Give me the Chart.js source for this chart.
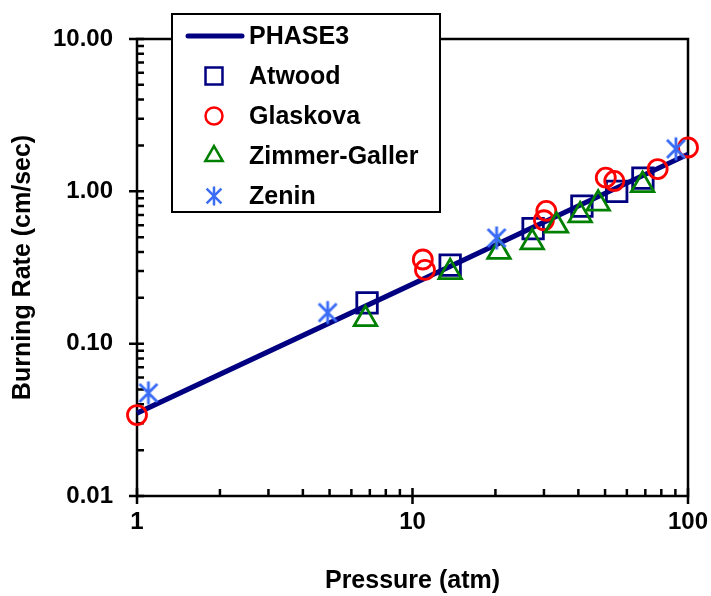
<!DOCTYPE html>
<html>
<head>
<meta charset="utf-8">
<script src="https://cdn.jsdelivr.net/npm/chart.js@4.4.1/dist/chart.umd.min.js"></script>
<style>
  html, body { margin: 0; padding: 0; background: #ffffff; }
  #wrap { width: 711px; height: 596px; position: relative; }
</style>
</head>
<body>
<div id="wrap"><canvas id="c" width="711" height="596"></canvas></div>
<script>
// ---- data ----
const pressurePhase3 = [1, 10, 100];
const ratePhase3 = [0.035, 0.246, 1.75];

const pressureAtwood = [6.84, 13.7, 27.4, 41.2, 55.1, 68.6];
const rateAtwood = [0.185, 0.328, 0.569, 0.80, 1.0, 1.22];

const pressureGlaskova = [1.0, 10.9, 11.1, 30.0, 30.6, 50.3, 54.0, 77.6, 100];
const rateGlaskova = [0.034, 0.357, 0.305, 0.646, 0.744, 1.23, 1.17, 1.40, 1.94];

const pressureZimmer = [6.75, 13.7, 20.6, 27.2, 33.3, 40.6, 47.2, 68.4];
const rateZimmer = [0.145, 0.295, 0.40, 0.462, 0.595, 0.695, 0.83, 1.10];

const pressureZenin = [1.1, 4.92, 20.2, 90.4];
const rateZenin = [0.0475, 0.16, 0.494, 1.90];

const seriesNames = ['PHASE3', 'Atwood', 'Glaskova', 'Zimmer-Galler', 'Zenin'];

const xTickValues = [1, 10, 100];
const xTickLabels = ['1', '10', '100'];
const yTickValues = [0.01, 0.1, 1, 10];
const yTickLabels = ['0.01', '0.10', '1.00', '10.00'];

function pts(xs, ys) { return xs.map((x, i) => ({ x: x, y: ys[i] })); }

// asterisk marker for Zenin
function makeStar(size, color, lw) {
  const c = document.createElement('canvas');
  c.width = size; c.height = size;
  const g = c.getContext('2d');
  const m = size / 2, r = size / 2 - 1.5;
  g.strokeStyle = color; g.lineWidth = lw; g.lineCap = 'butt';
  g.beginPath();
  g.moveTo(m, m - r); g.lineTo(m, m + r);
  const d = r * 0.78;
  g.moveTo(m - d, m - d); g.lineTo(m + d, m + d);
  g.moveTo(m + d, m - d); g.lineTo(m - d, m + d);
  g.stroke();
  return c;
}
const starPlot = makeStar(26, '#3b6cf6', 2.8);
const starLegend = makeStar(22, '#3b6cf6', 2.5);

const FONT = "'Liberation Sans', Arial, Helvetica, sans-serif";

const frameAndTicks = {
  id: 'frameAndTicks',
  beforeDatasetsDraw(chart) {
    const ctx = chart.ctx;
    const a = chart.chartArea;
    const xs = chart.scales.x, ys = chart.scales.y;
    ctx.save();
    ctx.strokeStyle = '#000';
    ctx.lineWidth = 2.5;
    ctx.beginPath();
    for (let d = 0; d < yTickValues.length; d++) {
      const v = yTickValues[d];
      const py = ys.getPixelForValue(v);
      ctx.moveTo(a.left - 8, py); ctx.lineTo(a.left + 7, py);
      if (d < yTickValues.length - 1) {
        for (let k = 2; k <= 9; k++) {
          const my = ys.getPixelForValue(v * k);
          ctx.moveTo(a.left, my); ctx.lineTo(a.left + 7, my);
        }
      }
    }
    for (let d = 0; d < xTickValues.length; d++) {
      const v = xTickValues[d];
      const px = xs.getPixelForValue(v);
      ctx.moveTo(px, a.bottom - 8); ctx.lineTo(px, a.bottom + 8);
      if (d < xTickValues.length - 1) {
        for (let k = 2; k <= 9; k++) {
          const mx = xs.getPixelForValue(v * k);
          ctx.moveTo(mx, a.bottom - 7); ctx.lineTo(mx, a.bottom);
        }
      }
    }
    ctx.stroke();
    ctx.strokeRect(a.left, a.top, a.right - a.left, a.bottom - a.top);
    ctx.restore();
  }
};

const boxLegend = {
  id: 'boxLegend',
  afterDraw(chart) {
    const ctx = chart.ctx;
    const bx = 172, by = 14, bw = 268, bh = 198;
    ctx.save();
    ctx.fillStyle = '#fff';
    ctx.fillRect(bx, by, bw, bh);
    ctx.strokeStyle = '#000';
    ctx.lineWidth = 2;
    ctx.strokeRect(bx, by, bw, bh);
    const legendRadius = [0, 12, 8.5, 10, 0];
    chart.data.datasets.forEach((ds, i) => {
      const y = 36 + 40 * i;
      if (ds.showLine) {
        ctx.strokeStyle = ds.borderColor;
        ctx.lineWidth = 5;
        ctx.lineCap = 'round';
        ctx.beginPath();
        ctx.moveTo(188, y); ctx.lineTo(242, y);
        ctx.stroke();
      } else {
        ctx.strokeStyle = ds.pointBorderColor;
        ctx.fillStyle = 'rgba(0,0,0,0)';
        ctx.lineWidth = 2.5;
        const style = ds.pointStyle === starPlot ? starLegend : ds.pointStyle;
        Chart.helpers.drawPoint(ctx, { pointStyle: style, radius: legendRadius[i] || 10, rotation: 0, borderWidth: 2.5 }, 214, y);
      }
      ctx.fillStyle = '#000';
      ctx.font = "bold 25px " + FONT;
      ctx.textBaseline = 'middle';
      ctx.textAlign = 'left';
      ctx.fillText(ds.label, 249, y + 1);
    });
    ctx.restore();
  }
};

new Chart(document.getElementById('c'), {
  type: 'scatter',
  data: {
    datasets: [
      {
        label: seriesNames[0],
        data: pts(pressurePhase3, ratePhase3),
        showLine: true,
        borderColor: '#000080',
        borderWidth: 5,
        pointRadius: 0,
        clip: 6,
        order: 10
      },
      {
        label: seriesNames[1],
        data: pts(pressureAtwood, rateAtwood),
        pointStyle: 'rect',
        pointRadius: 14.5,
        pointBorderColor: '#000080',
        pointBackgroundColor: 'rgba(0,0,0,0)',
        pointBorderWidth: 2.8,
        clip: false,
        order: 4
      },
      {
        label: seriesNames[2],
        data: pts(pressureGlaskova, rateGlaskova),
        pointStyle: 'circle',
        pointRadius: 9.5,
        pointBorderColor: '#ff0000',
        pointBackgroundColor: 'rgba(0,0,0,0)',
        pointBorderWidth: 2.8,
        clip: false,
        order: 3
      },
      {
        label: seriesNames[3],
        data: pts(pressureZimmer, rateZimmer),
        pointStyle: 'triangle',
        pointRadius: 13,
        pointBorderColor: '#008000',
        pointBackgroundColor: 'rgba(0,0,0,0)',
        pointBorderWidth: 2.8,
        clip: false,
        order: 2
      },
      {
        label: seriesNames[4],
        data: pts(pressureZenin, rateZenin),
        pointStyle: starPlot,
        pointRadius: 11,
        pointBorderColor: '#3b6cf6',
        pointBackgroundColor: 'rgba(0,0,0,0)',
        clip: false,
        order: 1
      }
    ]
  },
  options: {
    responsive: false,
    animation: false,
    devicePixelRatio: 1,
    layout: { padding: { top: 39, right: 23, left: 0, bottom: 0 } },
    plugins: { legend: { display: false }, tooltip: { enabled: false } },
    scales: {
      x: {
        type: 'logarithmic',
        position: 'bottom',
        min: 1, max: 100,
        grid: { display: false, drawTicks: false },
        border: { display: false },
        afterBuildTicks(scale) { scale.ticks = xTickValues.map(v => ({ value: v, major: true })); },
        afterFit(scale) { scale.height = 100; scale.paddingLeft = 0; scale.paddingRight = 0; },
        ticks: {
          padding: 12,
          color: '#000',
          font: { family: FONT, size: 24, weight: 'bold' },
          maxRotation: 0,
          callback: (v, i) => xTickLabels[i]
        },
        title: {
          display: true,
          text: 'Pressure (atm)',
          color: '#000',
          font: { family: FONT, size: 25, weight: 'bold' },
          padding: { top: 0, bottom: 0 }
        }
      },
      y: {
        type: 'logarithmic',
        position: 'left',
        min: 0.01, max: 10,
        grid: { display: false, drawTicks: false },
        border: { display: false },
        afterBuildTicks(scale) { scale.ticks = yTickValues.map(v => ({ value: v, major: true })); },
        afterFit(scale) { scale.width = 137; scale.paddingTop = 0; scale.paddingBottom = 0; },
        ticks: {
          padding: 24,
          color: '#000',
          font: { family: FONT, size: 24, weight: 'bold' },
          callback: (v, i) => yTickLabels[i]
        },
        title: {
          display: true,
          text: 'Burning Rate (cm/sec)',
          color: '#000',
          font: { family: FONT, size: 25, weight: 'bold' },
          padding: { top: 8, bottom: 0 }
        }
      }
    }
  },
  plugins: [frameAndTicks, boxLegend]
});
</script>
</body>
</html>
